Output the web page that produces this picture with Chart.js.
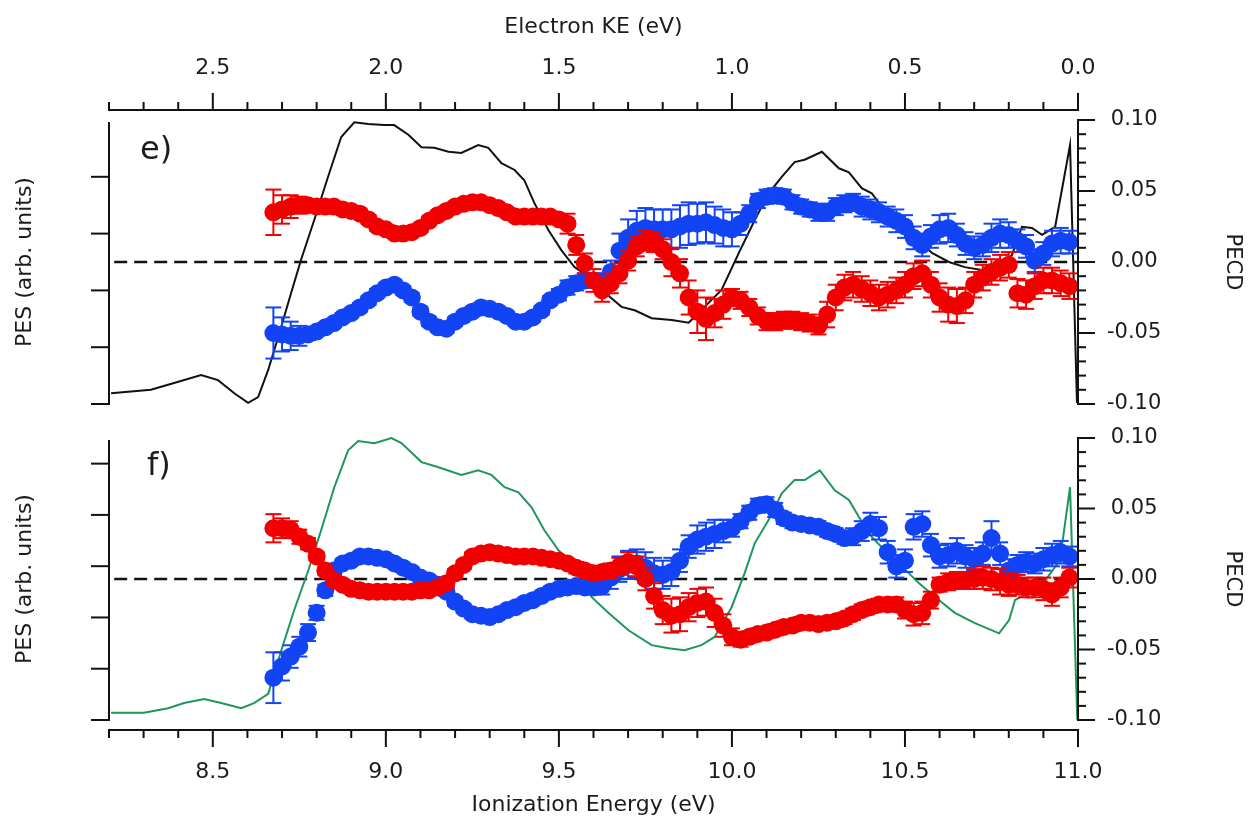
<!DOCTYPE html>
<html>
<head>
<meta charset="utf-8">
<script src="https://cdn.jsdelivr.net/npm/chart.js@4.4.0/dist/chart.umd.min.js"></script>
<style>
  body { margin: 0; background: #fff; }
  #wrap { position: relative; width: 1251px; height: 831px; }
  canvas { position: absolute; left: 0; }
</style>
</head>
<body>
<div id="wrap">
  <canvas id="panelE" width="1251" height="420" style="top:0px"></canvas>
  <canvas id="panelF" width="1251" height="411" style="top:420px"></canvas>
</div>
<script>
// Ionization energy grid of the PECD points (eV)
var ie = [8.675, 8.7, 8.725, 8.75, 8.775, 8.8, 8.825, 8.85, 8.875, 8.9,
  8.925, 8.95, 8.975, 9.0, 9.025, 9.05, 9.075, 9.1, 9.125, 9.15,
  9.175, 9.2, 9.225, 9.25, 9.275, 9.3, 9.325, 9.35, 9.375, 9.4,
  9.425, 9.45, 9.475, 9.5, 9.525, 9.55, 9.575, 9.6, 9.625, 9.65,
  9.675, 9.7, 9.725, 9.75, 9.775, 9.8, 9.825, 9.85, 9.875, 9.9,
  9.925, 9.95, 9.975, 10.0, 10.025, 10.05, 10.075, 10.1, 10.125, 10.15,
  10.175, 10.2, 10.225, 10.25, 10.275, 10.3, 10.325, 10.35, 10.375, 10.4,
  10.425, 10.45, 10.475, 10.5, 10.525, 10.55, 10.575, 10.6, 10.625, 10.65,
  10.675, 10.7, 10.725, 10.75, 10.775, 10.8, 10.825, 10.85, 10.875, 10.9,
  10.925, 10.95, 10.975];

// panel e)
var redE = [0.035, 0.037, 0.039, 0.040, 0.040, 0.039, 0.039, 0.039, 0.037, 0.036,
  0.034, 0.030, 0.025, 0.023, 0.020, 0.020, 0.021, 0.024, 0.029, 0.033,
  0.036, 0.039, 0.041, 0.042, 0.042, 0.040, 0.038, 0.035, 0.032, 0.032,
  0.032, 0.032, 0.032, 0.030, 0.027, 0.012, -0.001, -0.013, -0.020, -0.015,
  -0.008, 0.001, 0.011, 0.015, 0.014, 0.009, 0.000, -0.008, -0.025, -0.035,
  -0.040, -0.036, -0.030, -0.025, -0.027, -0.032, -0.038, -0.042, -0.042, -0.041,
  -0.041, -0.042, -0.043, -0.045, -0.037, -0.025, -0.018, -0.016, -0.019, -0.022,
  -0.025, -0.023, -0.020, -0.016, -0.010, -0.008, -0.016, -0.025, -0.030, -0.031,
  -0.027, -0.016, -0.011, -0.007, -0.004, -0.002, -0.022, -0.023, -0.017, -0.013,
  -0.013, -0.015, -0.017];
var redEErr = [0.016, 0.010, 0.008, 0.006, 0.003, 0.003, 0.003, 0.003, 0.003, 0.003,
  0.003, 0.003, 0.003, 0.003, 0.003, 0.003, 0.003, 0.003, 0.003, 0.003,
  0.003, 0.003, 0.003, 0.003, 0.003, 0.003, 0.003, 0.003, 0.003, 0.003,
  0.003, 0.003, 0.003, 0.003, 0.007, 0.007, 0.007, 0.008, 0.008, 0.007,
  0.007, 0.007, 0.007, 0.007, 0.007, 0.007, 0.010, 0.010, 0.012, 0.015,
  0.015, 0.010, 0.010, 0.006, 0.006, 0.006, 0.006, 0.006, 0.006, 0.006,
  0.006, 0.006, 0.006, 0.006, 0.009, 0.009, 0.009, 0.009, 0.009, 0.009,
  0.009, 0.009, 0.009, 0.009, 0.009, 0.009, 0.009, 0.010, 0.012, 0.012,
  0.009, 0.009, 0.009, 0.009, 0.009, 0.009, 0.010, 0.010, 0.009, 0.009,
  0.009, 0.009, 0.009];
var blueE = [-0.050, -0.051, -0.052, -0.052, -0.051, -0.049, -0.046, -0.043, -0.039, -0.036,
  -0.032, -0.027, -0.022, -0.018, -0.016, -0.020, -0.025, -0.035, -0.042, -0.046,
  -0.047, -0.042, -0.038, -0.035, -0.032, -0.033, -0.035, -0.038, -0.042, -0.042,
  -0.039, -0.034, -0.027, -0.023, -0.018, -0.015, -0.013, -0.013, -0.014, -0.007,
  0.008, 0.017, 0.022, 0.024, 0.023, 0.023, 0.023, 0.025, 0.027, 0.027,
  0.028, 0.026, 0.024, 0.023, 0.027, 0.034, 0.043, 0.046, 0.047, 0.046,
  0.042, 0.039, 0.037, 0.035, 0.035, 0.039, 0.041, 0.042, 0.039, 0.037,
  0.035, 0.032, 0.029, 0.025, 0.017, 0.012, 0.018, 0.023, 0.024, 0.019,
  0.013, 0.010, 0.012, 0.017, 0.020, 0.019, 0.015, 0.011, 0.001, 0.006,
  0.013, 0.015, 0.014];
var blueEErr = [0.018, 0.012, 0.010, 0.007, 0.004, 0.003, 0.003, 0.003, 0.003, 0.003,
  0.003, 0.003, 0.003, 0.003, 0.003, 0.003, 0.003, 0.003, 0.003, 0.003,
  0.003, 0.003, 0.003, 0.003, 0.003, 0.003, 0.003, 0.003, 0.003, 0.003,
  0.003, 0.003, 0.003, 0.004, 0.005, 0.005, 0.005, 0.005, 0.006, 0.008,
  0.012, 0.013, 0.014, 0.014, 0.014, 0.014, 0.014, 0.015, 0.015, 0.014,
  0.014, 0.013, 0.013, 0.012, 0.008, 0.006, 0.005, 0.005, 0.005, 0.005,
  0.005, 0.005, 0.005, 0.006, 0.006, 0.006, 0.006, 0.006, 0.007, 0.007,
  0.007, 0.007, 0.008, 0.008, 0.008, 0.008, 0.008, 0.010, 0.010, 0.008,
  0.008, 0.008, 0.008, 0.010, 0.010, 0.009, 0.008, 0.008, 0.008, 0.008,
  0.009, 0.009, 0.008];
var pesEIE = [8.206, 8.321, 8.388, 8.466, 8.515, 8.562, 8.602, 8.631, 8.660, 8.689,
  8.726, 8.755, 8.793, 8.833, 8.871, 8.909, 8.949, 8.995, 9.024, 9.065,
  9.103, 9.140, 9.181, 9.218, 9.267, 9.296, 9.334, 9.372, 9.400, 9.429,
  9.470, 9.507, 9.545, 9.586, 9.623, 9.681, 9.719, 9.768, 9.826, 9.875,
  9.970, 10.020, 10.066, 10.106, 10.144, 10.181, 10.210, 10.260, 10.309, 10.338,
  10.375, 10.404, 10.433, 10.482, 10.529, 10.578, 10.627, 10.673, 10.722, 10.772,
  10.809, 10.838, 10.867, 10.896, 10.934, 10.977, 10.997];
var pesE = [0.19, 0.25, 0.37, 0.51, 0.42, 0.19, 0.02, 0.12, 0.60, 1.18,
  1.95, 2.54, 3.24, 4.00, 4.70, 4.96, 4.93, 4.91, 4.91, 4.74,
  4.52, 4.51, 4.44, 4.42, 4.56, 4.51, 4.24, 4.12, 3.94, 3.54,
  3.06, 2.71, 2.41, 2.24, 2.01, 1.71, 1.65, 1.51, 1.48, 1.43,
  2.01, 2.66, 3.24, 3.71, 4.00, 4.26, 4.30, 4.44, 4.15, 4.08,
  3.80, 3.71, 3.47, 3.19, 2.94, 2.66, 2.50, 2.41, 2.36, 2.41,
  2.62, 3.12, 3.10, 2.98, 3.12, 4.56, 0.02];

// panel f)
var redF = [0.036, 0.036, 0.035, 0.030, 0.025, 0.016, 0.006, -0.001, -0.004, -0.007,
  -0.008, -0.009, -0.009, -0.009, -0.009, -0.009, -0.009, -0.008, -0.008, -0.006,
  -0.003, 0.004, 0.010, 0.016, 0.018, 0.019, 0.018, 0.017, 0.016, 0.016,
  0.016, 0.015, 0.014, 0.013, 0.011, 0.008, 0.006, 0.004, 0.005, 0.006,
  0.009, 0.012, 0.009, 0.000, -0.012, -0.022, -0.026, -0.025, -0.020, -0.017,
  -0.016, -0.024, -0.033, -0.041, -0.043, -0.041, -0.039, -0.038, -0.036, -0.034,
  -0.033, -0.031, -0.031, -0.032, -0.031, -0.030, -0.028, -0.025, -0.022, -0.020,
  -0.018, -0.018, -0.018, -0.022, -0.025, -0.024, -0.015, -0.004, -0.002, -0.001,
  -0.001, 0.000, 0.001, 0.000, -0.002, -0.004, -0.004, -0.006, -0.006, -0.007,
  -0.011, -0.006, 0.001];
var redFErr = [0.010, 0.007, 0.006, 0.005, 0.004, 0.003, 0.003, 0.003, 0.003, 0.003,
  0.003, 0.003, 0.003, 0.003, 0.003, 0.003, 0.003, 0.003, 0.003, 0.003,
  0.003, 0.003, 0.003, 0.003, 0.003, 0.003, 0.003, 0.003, 0.003, 0.003,
  0.003, 0.003, 0.003, 0.003, 0.003, 0.004, 0.004, 0.004, 0.004, 0.005,
  0.006, 0.007, 0.007, 0.008, 0.009, 0.010, 0.012, 0.012, 0.010, 0.010,
  0.010, 0.010, 0.008, 0.006, 0.005, 0.004, 0.004, 0.004, 0.004, 0.004,
  0.004, 0.004, 0.004, 0.004, 0.004, 0.004, 0.004, 0.004, 0.004, 0.004,
  0.004, 0.004, 0.005, 0.006, 0.008, 0.008, 0.006, 0.005, 0.006, 0.006,
  0.006, 0.007, 0.008, 0.008, 0.009, 0.008, 0.007, 0.007, 0.007, 0.008,
  0.008, 0.007, 0.007];
var blueF = [-0.070, -0.062, -0.055, -0.048, -0.038, -0.024, -0.008, 0.006, 0.011, 0.013,
  0.016, 0.016, 0.015, 0.014, 0.011, 0.008, 0.005, 0.001, -0.001, -0.004,
  -0.009, -0.016, -0.021, -0.025, -0.026, -0.027, -0.025, -0.022, -0.020, -0.017,
  -0.015, -0.012, -0.009, -0.007, -0.006, -0.005, -0.006, -0.006, -0.005, 0.001,
  0.007, 0.010, 0.011, 0.008, 0.004, 0.003, 0.005, 0.013, 0.023, 0.028,
  0.030, 0.032, 0.034, 0.036, 0.041, 0.047, 0.052, 0.053, 0.049, 0.043,
  0.040, 0.039, 0.038, 0.037, 0.034, 0.032, 0.029, 0.030, 0.034, 0.039,
  0.036, 0.019, 0.009, 0.013, 0.037, 0.039, 0.024, 0.016, 0.017, 0.020,
  0.016, 0.014, 0.018, 0.029, 0.018, 0.006, 0.010, 0.012, 0.011, 0.014,
  0.017, 0.019, 0.016];
var blueFErr = [0.018, 0.010, 0.008, 0.007, 0.006, 0.005, 0.004, 0.003, 0.003, 0.003,
  0.003, 0.003, 0.003, 0.003, 0.003, 0.003, 0.003, 0.003, 0.003, 0.003,
  0.003, 0.003, 0.003, 0.003, 0.003, 0.003, 0.003, 0.003, 0.003, 0.003,
  0.003, 0.003, 0.003, 0.003, 0.003, 0.003, 0.004, 0.005, 0.006, 0.008,
  0.009, 0.010, 0.010, 0.011, 0.011, 0.010, 0.010, 0.008, 0.008, 0.010,
  0.010, 0.010, 0.008, 0.006, 0.005, 0.005, 0.005, 0.005, 0.005, 0.004,
  0.004, 0.004, 0.004, 0.004, 0.004, 0.004, 0.004, 0.006, 0.007, 0.008,
  0.008, 0.008, 0.008, 0.008, 0.009, 0.009, 0.008, 0.008, 0.008, 0.009,
  0.008, 0.008, 0.008, 0.012, 0.008, 0.008, 0.007, 0.007, 0.007, 0.008,
  0.008, 0.008, 0.007];
var pesFIE = [8.206, 8.301, 8.371, 8.417, 8.475, 8.524, 8.582, 8.619, 8.660, 8.698,
  8.735, 8.776, 8.813, 8.851, 8.891, 8.920, 8.967, 9.016, 9.045, 9.103,
  9.152, 9.218, 9.267, 9.305, 9.343, 9.383, 9.421, 9.458, 9.499, 9.557,
  9.594, 9.643, 9.701, 9.768, 9.817, 9.863, 9.912, 9.950, 9.999, 10.037,
  10.066, 10.106, 10.144, 10.181, 10.210, 10.254, 10.297, 10.338, 10.367, 10.404,
  10.433, 10.482, 10.540, 10.598, 10.644, 10.702, 10.772, 10.801, 10.818, 10.896,
  10.948, 10.977, 10.998];
var pesF = [0.14, 0.14, 0.23, 0.33, 0.41, 0.33, 0.23, 0.33, 0.51, 1.36,
  2.14, 2.92, 3.70, 4.54, 5.26, 5.44, 5.40, 5.50, 5.40, 5.03,
  4.93, 4.78, 4.87, 4.78, 4.54, 4.44, 4.15, 3.70, 3.31, 2.92,
  2.40, 2.09, 1.75, 1.46, 1.40, 1.36, 1.46, 1.62, 2.20, 2.87,
  3.45, 3.90, 4.42, 4.68, 4.68, 4.87, 4.48, 4.29, 3.96, 3.57,
  3.37, 3.06, 2.67, 2.34, 2.09, 1.89, 1.69, 1.95, 2.34, 2.63,
  3.12, 4.54, 0.0];

// tick labels
var keTicks = [2.5, 2.0, 1.5, 1.0, 0.5, 0.0];
var ieTicks = [8.5, 9.0, 9.5, 10.0, 10.5, 11.0];
var pecdTicks = [-0.10, -0.05, 0.00, 0.05, 0.10];
var pesTicksE = [0, 1, 2, 3, 4];
var pesTicksF = [0, 1, 2, 3, 4, 5];

var RED = 'rgb(242,0,0)';
var BLUE = 'rgb(18,68,245)';
var FONT = 'DejaVu Sans';
var TXT = '#1c1c1c';

Chart.defaults.font.family = FONT;

function pts(xs, ys) {
  return xs.map(function (x, i) { return { x: x, y: ys[i] }; });
}

function line(ctx, x1, y1, x2, y2) {
  ctx.beginPath();
  ctx.moveTo(x1, y1);
  ctx.lineTo(x2, y2);
  ctx.stroke();
}

// error bars + hand drawn axes (minor ticks, offset energy axis)
var framePlugin = {
  id: 'frame',
  afterDatasetDraw: function (chart, args) {
    var ds = chart.data.datasets[args.index];
    if (!ds.errors) return;
    var ctx = chart.ctx, xs = chart.scales.x, ys = chart.scales[ds.yAxisID];
    ctx.save();
    ctx.strokeStyle = ds.pointBackgroundColor;
    ctx.lineWidth = 2;
    ds.data.forEach(function (p, i) {
      var px = xs.getPixelForValue(p.x);
      var y1 = ys.getPixelForValue(p.y + ds.errors[i]);
      var y2 = ys.getPixelForValue(p.y - ds.errors[i]);
      line(ctx, px, y1, px, y2);
      line(ctx, px - 8, y1, px + 8, y1);
      line(ctx, px - 8, y2, px + 8, y2);
    });
    ctx.restore();
  },
  afterDraw: function (chart, args, opts) {
    var ctx = chart.ctx, a = chart.chartArea;
    var yr = chart.scales.yr, yl = chart.scales.yl;
    ctx.save();
    ctx.strokeStyle = '#111';
    ctx.lineWidth = 2;

    // PECD axis (right)
    line(ctx, a.right, yr.getPixelForValue(0.1) - 1, a.right, yr.getPixelForValue(-0.1) + 1);
    for (var k = -10; k <= 10; k++) {
      var y = yr.getPixelForValue(k / 100);
      line(ctx, a.right, y, a.right + (k % 5 === 0 ? 17 : 8), y);
    }

    // PES axis (left)
    line(ctx, a.left, a.top + 2, a.left, a.bottom + 1);
    opts.pesTicks.forEach(function (v) {
      var y = yl.getPixelForValue(v);
      line(ctx, a.left - 18, y, a.left, y);
    });

    // energy axis, set off 10 px from the plot
    var ex = chart.scales[opts.energyAxis];
    var top = opts.side === 'top';
    var ay = top ? a.top - 10 : a.bottom + 10;
    var dir = top ? -1 : 1;
    line(ctx, a.left - 1, ay, a.right + 1, ay);
    for (var t = 0; t <= 28; t++) {
      var v = (top ? 0 : 8.2) + t / 10;
      var px = ex.getPixelForValue(v);
      var major = Math.abs(v * 2 - Math.round(v * 2)) < 1e-6;
      line(ctx, px, ay, px, ay + dir * (major ? 17 : 8));
    }

    // panel letter
    ctx.fillStyle = TXT;
    ctx.font = '32px "' + FONT + '"';
    ctx.textBaseline = 'middle';
    ctx.fillText(opts.letter, opts.letterX, opts.letterY);
    ctx.restore();
  }
};

function fixedTicks(list) {
  return function (s) {
    s.ticks = list.map(function (v) { return { value: v }; });
  };
}

// fixed box size, no extra room for overhanging labels
function boxSize(w, h) {
  return function (s) {
    if (w !== null) s.width = w;
    if (h !== null) s.height = h;
    s.paddingTop = 0; s.paddingBottom = 0;
    s.paddingLeft = 0; s.paddingRight = 0;
  };
}

function makePanel(id, o) {
  var bottomAxis = o.side === 'bottom';
  var scales = {
    x: { type: 'linear', min: 8.2, max: 11.0, display: bottomAxis,
      position: 'bottom',
      grid: { display: false, drawTicks: false }, border: { display: false },
      afterBuildTicks: fixedTicks(ieTicks),
      afterFit: boxSize(null, bottomAxis ? o.energyBox : 0),
      ticks: { autoSkip: false, maxRotation: 0, padding: 39, color: TXT,
        font: { size: 22 }, callback: function (v) { return v.toFixed(1); } },
      title: { display: true, text: 'Ionization Energy (eV)', color: TXT,
        font: { size: 22 }, padding: { top: 0, bottom: 13 } } },
    yl: { type: 'linear', position: 'left', min: 0, max: o.pesMax,
      grid: { display: false, drawTicks: false }, border: { display: false },
      ticks: { display: false },
      afterFit: boxSize(109, null),
      title: { display: true, text: 'PES (arb. units)', color: TXT,
        font: { size: 22 }, padding: { top: 12, bottom: 0 } } },
    yr: { type: 'linear', position: 'right', min: -0.1, max: 0.1,
      grid: { display: false, drawTicks: false }, border: { display: false },
      afterBuildTicks: fixedTicks(pecdTicks),
      afterFit: boxSize(1251 - 1078, null),
      ticks: { crossAlign: 'center', padding: 29, color: TXT, font: { size: 21 },
        callback: function (v) { return v.toFixed(2); } },
      title: { display: true, text: 'PECD', color: TXT,
        font: { size: 21 }, padding: { top: 6, bottom: 0 } } }
  };
  if (!bottomAxis) {
    scales.xk = { type: 'linear', position: 'top', min: 0, max: 2.8, reverse: true,
      grid: { display: false, drawTicks: false }, border: { display: false },
      afterBuildTicks: fixedTicks(keTicks),
      afterFit: boxSize(null, o.energyBox),
      ticks: { autoSkip: false, maxRotation: 0, padding: 39, color: TXT,
        font: { size: 22 }, callback: function (v) { return v.toFixed(1); } },
      title: { display: true, text: 'Electron KE (eV)', color: TXT,
        font: { size: 22 }, padding: { top: 14, bottom: 0 } } };
  }

  return new Chart(document.getElementById(id), {
    type: 'scatter',
    data: {
      datasets: [
        { data: pts(ie, o.red), errors: o.redErr, yAxisID: 'yr', pointRadius: 9,
          pointBackgroundColor: RED, pointBorderWidth: 0, clip: false },
        { data: pts(ie, o.blue), errors: o.blueErr, yAxisID: 'yr', pointRadius: 9,
          pointBackgroundColor: BLUE, pointBorderWidth: 0, clip: false },
        { data: pts(o.pesIE, o.pes), yAxisID: 'yl', showLine: true, pointRadius: 0,
          borderColor: o.pesColor, borderWidth: 2, clip: false },
        { data: [{ x: 8.215, y: 0 }, { x: 11.0, y: 0 }], yAxisID: 'yr', showLine: true,
          pointRadius: 0, borderColor: '#111', borderWidth: 2.5, borderDash: [13, 7] }
      ]
    },
    options: {
      responsive: false,
      devicePixelRatio: 1,
      animation: false,
      layout: { padding: o.padding },
      scales: scales,
      plugins: {
        legend: { display: false },
        tooltip: { enabled: false },
        frame: { side: o.side, energyAxis: bottomAxis ? 'x' : 'xk',
          pesTicks: o.pesTicks, letter: o.letter, letterX: o.letterX, letterY: o.letterY }
      }
    },
    plugins: [framePlugin]
  });
}

makePanel('panelE', {
  side: 'top', energyBox: 120, padding: { top: 0, bottom: 16, left: 0, right: 0 },
  red: redE, redErr: redEErr, blue: blueE, blueErr: blueEErr,
  pesIE: pesEIE, pes: pesE, pesColor: '#111', pesMax: 5, pesTicks: pesTicksE,
  letter: 'e)', letterX: 140, letterY: 151
});

makePanel('panelF', {
  side: 'bottom', energyBox: 111, padding: { top: 18, bottom: 0, left: 0, right: 0 },
  red: redF, redErr: redFErr, blue: blueF, blueErr: blueFErr,
  pesIE: pesFIE, pes: pesF, pesColor: 'rgb(32,150,92)', pesMax: 5.5, pesTicks: pesTicksF,
  letter: 'f)', letterX: 147, letterY: 47
});
</script>
</body>
</html>
